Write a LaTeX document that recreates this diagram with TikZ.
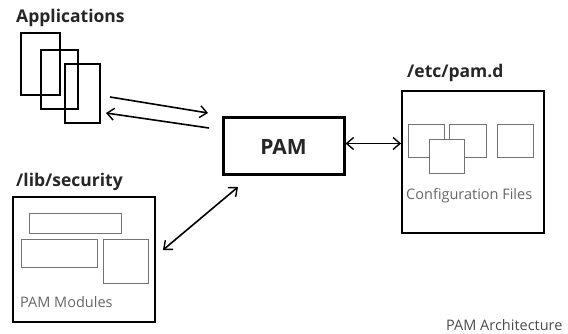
\documentclass[tikz,border=0pt]{standalone}
\usepackage{fontspec}
\setmainfont{Open Sans}
\usetikzlibrary{arrows.meta}
\begin{document}
\begin{tikzpicture}[x=1pt,y=-1pt,
  appbox/.style={draw=black,line width=1.8pt},
  mainbox/.style={draw=black,line width=1.8pt},
  pambox/.style={draw=black,line width=3pt},
  innerbox/.style={draw=black!55,line width=0.9pt},
  innerfront/.style={draw=black!55,line width=0.9pt,fill=white},
  title/.style={font=\bfseries\fontsize{17.5}{20}\selectfont,text=black!85,anchor=west,inner sep=0pt},
  captext/.style={font=\fontsize{14.5}{16}\selectfont,text=black!60,anchor=west,inner sep=0pt},
  conn/.style={line width=1.6pt,-{Straight Barb[length=7pt,width=12pt,line width=1.4pt]}},
  biconn/.style={line width=1.6pt,{Straight Barb[length=7pt,width=12pt,line width=1.4pt]}-{Straight Barb[length=7pt,width=12pt,line width=1.4pt]}}
]
\useasboundingbox (0,0) rectangle (568,334);
% Applications
\node[title] (apptitle) at (16,18) {Applications};
\draw[appbox] (21,33) rectangle (60,95);
\draw[appbox] (41,50) rectangle (78,109);
\draw[appbox] (65,64) rectangle (100,123);
\coordinate (a1s) at (110,97);
\coordinate (a1e) at (208,113);
\coordinate (a2s) at (209,128);
\coordinate (a2e) at (106,113);
\draw[conn] (a1s) -- (a1e);
\draw[conn] (a2s) -- (a2e);
% PAM
\node[pambox,minimum width=121pt,minimum height=57pt,inner sep=0pt,font=\bfseries\fontsize{21}{24}\selectfont,text=black!85] (pam) at (283.5,146.5) {PAM};
% etc/pam.d
\node[title] (etctitle) at (407,73) {/etc/pam.d};
\node[mainbox,minimum width=142pt,minimum height=142pt,inner sep=0pt] (etc) at (473,162) {};
\draw[innerbox] (408,124) rectangle (444,157);
\draw[innerbox] (449,124) rectangle (486,157);
\draw[innerfront] (429,139) rectangle (464,173);
\draw[innerbox] (497,124) rectangle (533,157);
\node[captext] (conf) at (406,196) {Configuration Files};
\draw[biconn] ([yshift=3pt]pam.east) -- ([yshift=3pt]etc.west |- pam.east);
% lib/security
\node[title] (libtitle) at (16,182) {/lib/security};
\node[mainbox,minimum width=142pt,minimum height=125pt,inner sep=0pt] (lib) at (84,259.5) {};
\draw[innerbox] (29,213) rectangle (121,233);
\draw[innerbox] (21,239) rectangle (97,267);
\draw[innerbox] (103,239) rectangle (148,283);
\node[captext] (mods) at (20,302) {PAM Modules};
\coordinate (l1) at (163,250);
\coordinate (l2) at (238,187);
\draw[biconn] (l1) -- (l2);
% footer
\node[captext,text=black!70] (arch) at (446,325) {PAM Architecture};
\end{tikzpicture}
\end{document}
